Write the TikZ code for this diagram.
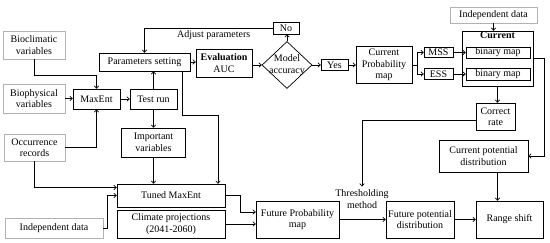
\documentclass[tikz,border=0pt]{standalone}
\usepackage{fontspec}
\setmainfont{Liberation Serif}
\usetikzlibrary{shapes.geometric,arrows.meta}

\tikzset{
    kasten/.style={draw, line width=0.7pt, align=center, inner sep=1pt, font=\fontsize{10}{11.5}\selectfont},
    grau/.style={kasten, draw=gray!60},
    raute/.style={draw, line width=0.7pt, diamond, inner sep=0pt, minimum width=50, minimum height=47},
    pfeil/.style={line width=0.7pt, -{To[length=3pt,width=5pt]}},
    linie/.style={line width=0.7pt}
}

\begin{document}
\begin{tikzpicture}[x=1pt,y=-1pt]
    \useasboundingbox (0,0) rectangle (550,242);
    \path node[grau, minimum width=62, minimum height=28] (bio) at (34,45) {Bioclimatic\\variables}
        node[grau, minimum width=62, minimum height=29] (phys) at (34,98.5) {Biophysical\\variables}
        node[grau, minimum width=61, minimum height=27] (occ) at (34.5,147.5) {Occurrence\\records}
        node[grau, minimum width=98, minimum height=20] (indA) at (54,228) {Independent data}
        node[kasten, minimum width=47, minimum height=20] (maxent) at (96.5,99) {MaxEnt}
        node[kasten, minimum width=47, minimum height=20] (test) at (153.5,99) {Test run}
        node[kasten, minimum width=91, minimum height=18] (param) at (144.5,62) {Parameters setting}
        node[kasten, minimum width=64, minimum height=29] (imp) at (153.5,142.5) {Important\\variables}
        node[kasten, minimum width=108, minimum height=23] (tuned) at (171,195.5) {Tuned MaxEnt}
        node[kasten, minimum width=108, minimum height=28] (clim) at (171,224) {Climate projections\\(2041-2060)}
        node[kasten, minimum width=56, minimum height=28] (eval) at (224,63) {\textbf{Evaluation}\\AUC}
        node[raute, label={[align=center, font=\fontsize{10}{11.5}\selectfont]center:Model\\accuracy}] (acc) at (287,65) {}
        node[kasten, minimum width=26, minimum height=12] (no) at (286,28) {No}
        node[kasten, minimum width=27, minimum height=11] (yes) at (334.5,65) {Yes}
        node[kasten, minimum width=56, minimum height=37] (cpm) at (384,65) {Current\\Probability\\map}
        node[kasten, minimum width=29, minimum height=10] (mss) at (438.5,52.5) {MSS}
        node[kasten, minimum width=29, minimum height=11] (ess) at (438.5,74) {ESS}
        node[grau, minimum width=87, minimum height=16] (indB) at (493.5,15) {Independent data}
        node[kasten, minimum width=71, minimum height=55] (cur) at (497.5,58.5) {}
        node[kasten, font=\fontsize{10}{11.5}\selectfont\bfseries, draw=none, anchor=north] (curtitel) at (cur.north) {Current}
        node[kasten, minimum width=64, minimum height=11] (bm1) at (498,52.5) {binary map}
        node[kasten, minimum width=64, minimum height=12] (bm2) at (498,74) {binary map}
        node[kasten, minimum width=39, minimum height=27] (corr) at (495.5,116.5) {Correct\\rate}
        node[kasten, minimum width=89, minimum height=32] (cpd) at (483.5,156) {Current potential\\distribution}
        node[kasten, draw=none, inner sep=3pt] (thr) at (362,199) {Thresholding\\method}
        node[kasten, minimum width=83, minimum height=37] (fpm) at (297.5,219.5) {Future Probability\\map}
        node[kasten, minimum width=68, minimum height=37] (fpd) at (420,219.5) {Future potential\\distribution}
        node[kasten, minimum width=67, minimum height=37] (rs) at (509.5,219.5) {Range shift};
    \draw[pfeil] (bio.south) -- ++(0,16) -| (maxent.north);
    \draw[pfeil] (phys.east) -- (phys.east -| maxent.west);
    \draw[pfeil] (occ.east) -| (maxent.south);
    \draw[pfeil] (occ.south) |- ([yshift=8pt]tuned.west);
    \draw[pfeil] (indA.east) -- ++(4,0) |- (tuned.west);
    \draw[pfeil] (maxent.east) -- (test.west);
    \draw[pfeil] (test.north) -- (test.north |- param.south);
    \draw[pfeil] (test.south) -- (test.south |- imp.north);
    \draw[pfeil] (imp.south) -- (imp.south |- tuned.north);
    \draw[pfeil] ([xshift=37.5pt]param.south) -- ++(0,44) -| ([xshift=47pt]tuned.north);
    \draw[pfeil] (param.east) -- (param.east -| eval.west);
    \draw[pfeil] (eval.east |- acc.west) -- (acc.west);
    \draw[pfeil] (acc.north) -- (acc.north |- no.south);
    \draw[pfeil] (no.west) -| node[pos=0.23, below, inner sep=2pt, font=\fontsize{10}{11.5}\selectfont] {Adjust parameters} (param.north);
    \draw[pfeil] (acc.east) -- (yes.west);
    \draw[pfeil] (yes.east) -- (cpm.west);
    \draw[linie] (cpm.east) -- ++(5,0) coordinate (gabel);
    \draw[pfeil] (gabel) |- (mss.west);
    \draw[pfeil] (gabel) |- (ess.west);
    \draw[pfeil] (mss.east) -- (bm1.west);
    \draw[pfeil] (ess.east) -- (bm2.west);
    \draw[pfeil] (indB.south) -- (indB.south |- cur.north);
    \draw[pfeil] (cur.south) -- (cur.south |- corr.north);
    \draw[pfeil] (cur.east |- bm1.south) -- ++(11,0) |- (cpd.east);
    \draw[pfeil] ([yshift=-3.5pt]corr.west) -| (thr.north);
    \draw[pfeil] (cpd.south -| cur.south) -- (rs.north -| cur.south);
    \draw[pfeil] (tuned.east) -- ++(15,0) |- ([yshift=7.5pt]fpm.west);
    \draw[pfeil] (clim.east) -- (clim.east -| fpm.west);
    \draw[pfeil] (fpm.east) -- (fpd.west);
    \draw[pfeil] (fpd.east) -- (rs.west);
\end{tikzpicture}
\end{document}
